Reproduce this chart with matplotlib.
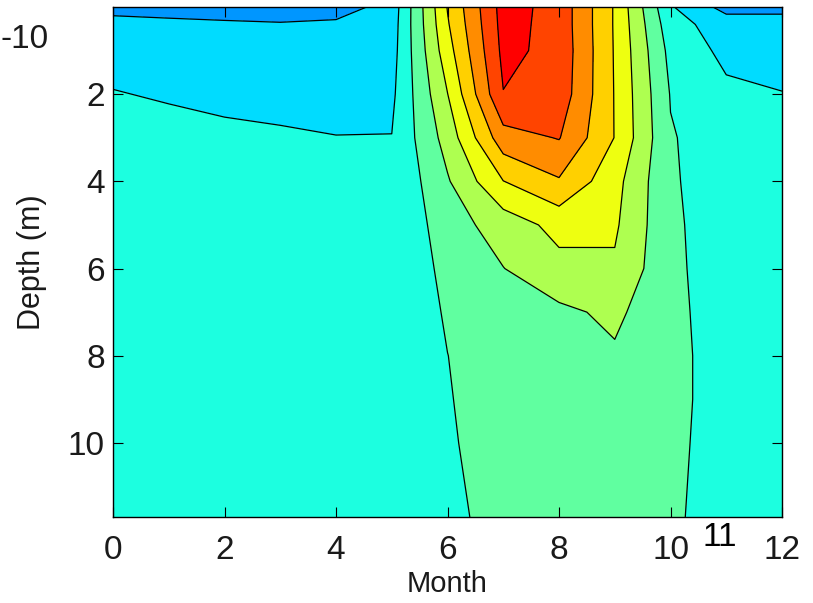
import matplotlib
matplotlib.use("Agg")
import matplotlib.pyplot as plt

plt.rcParams["font.family"] = ["Liberation Sans", "DejaVu Sans"]

# ---------------------------------------------------------------------
# Data
# ---------------------------------------------------------------------
months = [0, 1, 2, 3, 4, 5, 6, 7, 8, 9, 10, 11, 12]
depths = [0, 0.4, 1, 2, 3, 4, 5, 6, 7, 8, 9, 10, 11.7]

# one row per depth, one column per month
values = [
    [0.50, 0.50, 0.50, 0.50, 0.50, 1.41, 6.05, 9.40, 8.65, 5.90, 2.10, 0.65, 0.65],
    [1.50, 1.28, 1.15, 1.07, 1.19, 1.50, 5.90, 9.35, 8.65, 5.90, 2.40, 1.50, 1.50],
    [1.60, 1.60, 1.50, 1.40, 1.40, 1.60, 5.60, 9.25, 8.70, 5.92, 2.70, 1.75, 1.60],
    [2.05, 1.90, 1.80, 1.75, 1.70, 1.80, 4.98, 8.97, 8.60, 5.95, 2.95, 2.20, 2.03],
    [2.40, 2.35, 2.18, 2.10, 2.02, 2.02, 4.40, 7.60, 8.05, 5.97, 3.07, 2.50, 2.40],
    [2.50, 2.50, 2.50, 2.50, 2.50, 2.02, 3.90, 5.98, 6.90, 5.35, 3.11, 2.50, 2.50],
    [2.50, 2.50, 2.50, 2.50, 2.50, 2.02, 3.55, 4.45, 5.32, 5.15, 3.17, 2.50, 2.50],
    [2.50, 2.50, 2.50, 2.50, 2.50, 2.02, 3.31, 3.98, 4.70, 4.86, 3.21, 2.50, 2.50],
    [2.50, 2.50, 2.50, 2.50, 2.50, 2.02, 3.13, 3.80, 3.80, 4.20, 3.27, 2.50, 2.50],
    [2.50, 2.50, 2.50, 2.50, 2.50, 2.02, 2.99, 3.65, 3.55, 3.88, 3.33, 2.50, 2.50],
    [2.50, 2.50, 2.50, 2.50, 2.50, 2.02, 2.94, 3.50, 3.50, 3.70, 3.33, 2.50, 2.50],
    [2.50, 2.50, 2.50, 2.50, 2.50, 2.02, 2.90, 3.40, 3.45, 3.60, 3.27, 2.50, 2.50],
    [2.50, 2.50, 2.50, 2.50, 2.50, 2.02, 2.80, 3.30, 3.40, 3.50, 3.18, 2.50, 2.50],
]

line_levels = [1, 2, 3, 4, 5, 6, 7, 8, 9]
fill_levels = [-1] + line_levels + [11]

band_colors = [
    "#0096FF", "#00DCFF", "#1CFFE0", "#60FFA0", "#AEFF50",
    "#EEFF10", "#FFD000", "#FF8C00", "#FF4400", "#FF0000",
]

x_ticks = [0, 2, 4, 6, 8, 10, 12]
y_ticks = [2, 4, 6, 8, 10]

# ---------------------------------------------------------------------
# Figure
# ---------------------------------------------------------------------
fig = plt.figure(figsize=(8.13, 6.03), dpi=100)
ax = fig.add_axes([0.139, 0.1426, 0.8229, 0.8458])

ax.contourf(months, depths, values, levels=fill_levels, colors=band_colors)
ax.contour(months, depths, values, levels=line_levels, colors="k", linewidths=0.9)

ax.set_xlim(0, 12)
ax.set_ylim(11.7, 0)
ax.set_xticks(x_ticks)
ax.set_yticks(y_ticks)

ax.tick_params(direction="in", top=True, right=True, length=7, width=0.8,
               labelsize=24, colors="k", labelcolor="#1a1a1a")
ax.tick_params(axis="x", pad=13)
ax.tick_params(axis="y", pad=6)

for spine in ax.spines.values():
    spine.set_linewidth(1.0)

ax.set_xlabel("Month", fontsize=21, color="#1a1a1a", labelpad=3)
ax.set_ylabel("Depth (m)", fontsize=22, color="#1a1a1a", labelpad=15)

# stray labels visible in the reference
fig.text(1 / 813, 1 - 39 / 603, "-10", ha="left", va="center",
         fontsize=24, color="#1a1a1a")
fig.text(720 / 813, 1 - 537 / 603, "11", ha="center", va="center",
         fontsize=24, color="black")

fig.savefig("out.png", dpi=100)
